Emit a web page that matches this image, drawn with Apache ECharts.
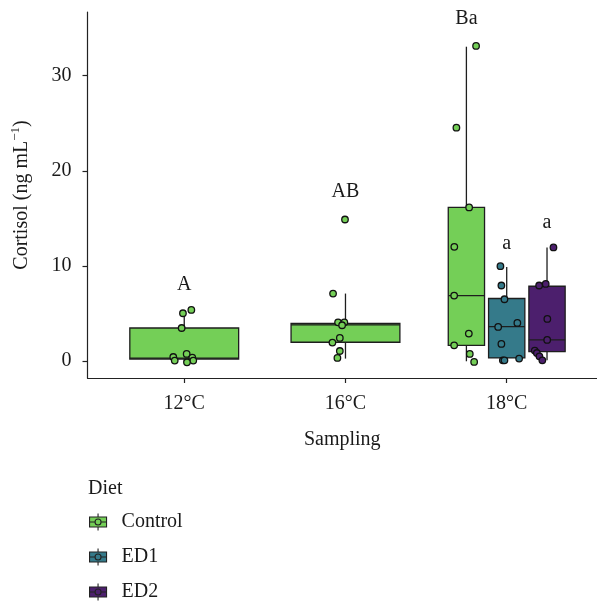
<!DOCTYPE html>
<html><head><meta charset="utf-8">
<script src="https://cdn.jsdelivr.net/npm/echarts@6/dist/echarts.min.js"></script>
<style>html,body{margin:0;padding:0;background:#fff}#c{width:597px;height:603px}</style>
</head><body><div id="c"></div>
<script>
// ---- data ----
const categories = ['12°C', '16°C', '18°C'];
const diets = ['Control', 'ED1', 'ED2'];
const dietColors = ['#74CF57', '#357A8A', '#4C1F6D'];
const yTicks = [0, 10, 20, 30];

// box statistics per sampling [min, Q1, median, Q3, max]; null = not sampled
const controlBox = [[-0.14, 0.21, 0.3, 3.47, 5.05], [0.25, 1.97, 3.8, 3.94, 7.09], [-0.03, 1.65, 6.88, 16.15, 33.05]];
const ed1Box = [null, null, [0.07, 0.32, 3.62, 6.57, 9.89]];
const ed2Box = [null, null, [0.07, 0.99, 2.21, 7.86, 11.94]];

// individual fish: [samplingIndex, jitter (category units), cortisol]
const controlPoints = [
  [0, 0.044, 5.37], [0, -0.008, 5.02], [0, -0.016, 3.47], [0, 0.015, 0.74], [0, -0.068, 0.42],
  [0, -0.059, 0.04], [0, 0.050, 0.36], [0, 0.056, 0.04], [0, 0.017, -0.14],
  [1, -0.003, 14.88], [1, -0.077, 7.09], [1, -0.046, 4.07], [1, -0.007, 4.07], [1, -0.021, 3.76],
  [1, -0.035, 2.42], [1, -0.081, 1.94], [1, -0.035, 1.05], [1, -0.050, 0.32],
  [2, 0.060, 33.13], [2, -0.062, 24.53], [2, 0.017, 16.15], [2, -0.075, 12.0], [2, -0.076, 6.88],
  [2, 0.015, 2.88], [2, -0.076, 1.65], [2, 0.021, 0.74], [2, 0.048, -0.1]
];
const ed1Points = [
  [2, -0.039, 9.97], [2, -0.033, 7.94], [2, -0.014, 6.49], [2, -0.053, 3.58], [2, 0.066, 4.0],
  [2, -0.033, 1.79], [2, -0.024, 0.07], [2, -0.014, 0.07], [2, 0.077, 0.25]
];
const ed2Points = [
  [2, 0.040, 11.94], [2, -0.049, 7.94], [2, -0.008, 8.1], [2, 0.002, 4.42], [2, 0.001, 2.21],
  [2, -0.076, 1.09], [2, -0.063, 0.84], [2, -0.047, 0.49], [2, -0.029, 0.07]
];

// significance letters and the height they are written at
const controlLetters = ['A', 'AB', 'Ba'];
const controlLetterY = [7.97, 17.8, 35.97];
const ed1Letters = [null, null, 'a'];
const ed1LetterY = [null, null, 12.36];
const ed2Letters = [null, null, 'a'];
const ed2LetterY = [null, null, 14.53];

// ---- build ----
const FONT = "'Liberation Serif', 'DejaVu Serif', serif";
const INK = '#1a1a1a';
const boxes = { Control: controlBox, ED1: ed1Box, ED2: ed2Box };
const pts = { Control: controlPoints, ED1: ed1Points, ED2: ed2Points };
const lets = { Control: [controlLetters, controlLetterY], ED1: [ed1Letters, ed1LetterY], ED2: [ed2Letters, ed2LetterY] };

function dodge(c, d) {
  const present = diets.filter(k => boxes[k][c]);
  const n = present.length, i = present.indexOf(d);
  const slot = 0.75 / n;
  return { x: c + 1 + (i - (n - 1) / 2) * slot, w: slot * 0.9 };
}

const series = [];
diets.forEach((d, di) => {
  const color = dietColors[di];
  const boxData = [];
  boxes[d].forEach((b, c) => { if (b) { const g = dodge(c, d); boxData.push([g.x, ...b, g.w]); } });
  series.push({
    name: d, type: 'custom', z: 2, itemStyle: { color: color },
    encode: { x: 0, y: [1, 2, 3, 4, 5] },
    data: boxData,
    renderItem: (params, api) => {
      const x = api.value(0), w = api.value(6);
      const hw = api.size([w, 0])[0] / 2;
      const p = k => api.coord([x, api.value(k)]);
      const mn = p(1), q1 = p(2), md = p(3), q3 = p(4), mx = p(5);
      const st = { stroke: '#1e1e1e', lineWidth: 1.3 };
      return { type: 'group', children: [
        { type: 'line', shape: { x1: mn[0], y1: mn[1], x2: q1[0], y2: q1[1] }, style: st },
        { type: 'line', shape: { x1: q3[0], y1: q3[1], x2: mx[0], y2: mx[1] }, style: st },
        { type: 'rect', shape: { x: q3[0] - hw, y: q3[1], width: 2 * hw, height: q1[1] - q3[1] }, style: { fill: color, stroke: '#1e1e1e', lineWidth: 1.3 } },
        { type: 'line', shape: { x1: md[0] - hw, y1: md[1], x2: md[0] + hw, y2: md[1] }, style: st }
      ] };
    }
  });
});
diets.forEach((d, di) => {
  series.push({
    name: d, type: 'scatter', z: 3, symbol: 'circle', symbolSize: 6.5,
    itemStyle: { color: dietColors[di], borderColor: '#111', borderWidth: 1.3, opacity: 1 },
    data: pts[d].map(([c, j, v]) => [dodge(c, d).x + j, v])
  });
});
diets.forEach((d) => {
  const [txt, ys] = lets[d];
  const data = [];
  txt.forEach((t, c) => { if (t) data.push({ name: t, value: [dodge(c, d).x, ys[c]] }); });
  series.push({
    name: d + ' letters', type: 'scatter', z: 4, symbolSize: 0, silent: true,
    itemStyle: { opacity: 1 },
    label: { show: true, position: 'inside', formatter: '{b}', fontFamily: FONT, fontSize: 20, color: INK, textBorderWidth: 0 },
    data: data
  });
});

const legendIcon = 'path://M8.5,0V3.5M0,3.5H17V13.5H0ZM0,8.5H5.5M11.5,8.5H17M8.5,13.5V17M11.5,8.5A3,3,0,1,1,5.5,8.5A3,3,0,1,1,11.5,8.5Z';

const chart = echarts.init(document.getElementById('c'));
chart.setOption({
  animation: false,
  backgroundColor: '#fff',
  title: { text: 'Diet', left: 88, top: 479, padding: 0, textStyle: { fontFamily: FONT, fontSize: 20, fontWeight: 'normal', color: INK } },
  legend: {
    orient: 'vertical', left: 89, top: 512, height: 130, width: 200, padding: 0,
    itemWidth: 17, itemHeight: 17, itemGap: 15,
    textStyle: { fontFamily: FONT, fontSize: 20, lineHeight: 17, color: INK, padding: [0, 0, 0, 10] },
    data: diets.map((d, i) => ({ name: d, icon: legendIcon, itemStyle: { color: dietColors[i], borderColor: '#222', borderWidth: 1.1 } }))
  },
  grid: { left: 87.5, right: 0, top: 12, bottom: 225, containLabel: false, outerBoundsMode: 'none' },
  xAxis: {
    type: 'value', min: 0.4, max: 3.56, splitLine: { show: false },
    axisLine: { onZero: false, lineStyle: { color: '#222', width: 1.2 } },
    axisTick: { customValues: [1, 2, 3], length: 5, lineStyle: { color: '#222', width: 1.2 } },
    axisLabel: { customValues: [1, 2, 3], formatter: v => categories[Math.round(v) - 1], fontFamily: FONT, fontSize: 20, color: INK, margin: 16 },
    name: 'Sampling', nameLocation: 'middle', nameGap: 52,
    nameTextStyle: { fontFamily: FONT, fontSize: 20, color: INK }
  },
  yAxis: {
    type: 'value', min: -1.79, max: 36.7, splitLine: { show: false },
    axisLine: { onZero: false, lineStyle: { color: '#222', width: 1.2 } },
    axisTick: { customValues: yTicks, length: 5, lineStyle: { color: '#222', width: 1.2 } },
    axisLabel: { customValues: yTicks, fontFamily: FONT, fontSize: 20, color: INK, margin: 16 },
    name: '{t|Cortisol (ng mL}{s|−1}{t|)}', nameLocation: 'middle', nameGap: 56,
    nameTextStyle: { rich: {
      t: { fontFamily: FONT, fontSize: 20, color: INK, lineHeight: 22, verticalAlign: 'bottom' },
      s: { fontFamily: FONT, fontSize: 13, color: INK, lineHeight: 22, verticalAlign: 'top' }
    } }
  },
  series: series
});
</script></body></html>
